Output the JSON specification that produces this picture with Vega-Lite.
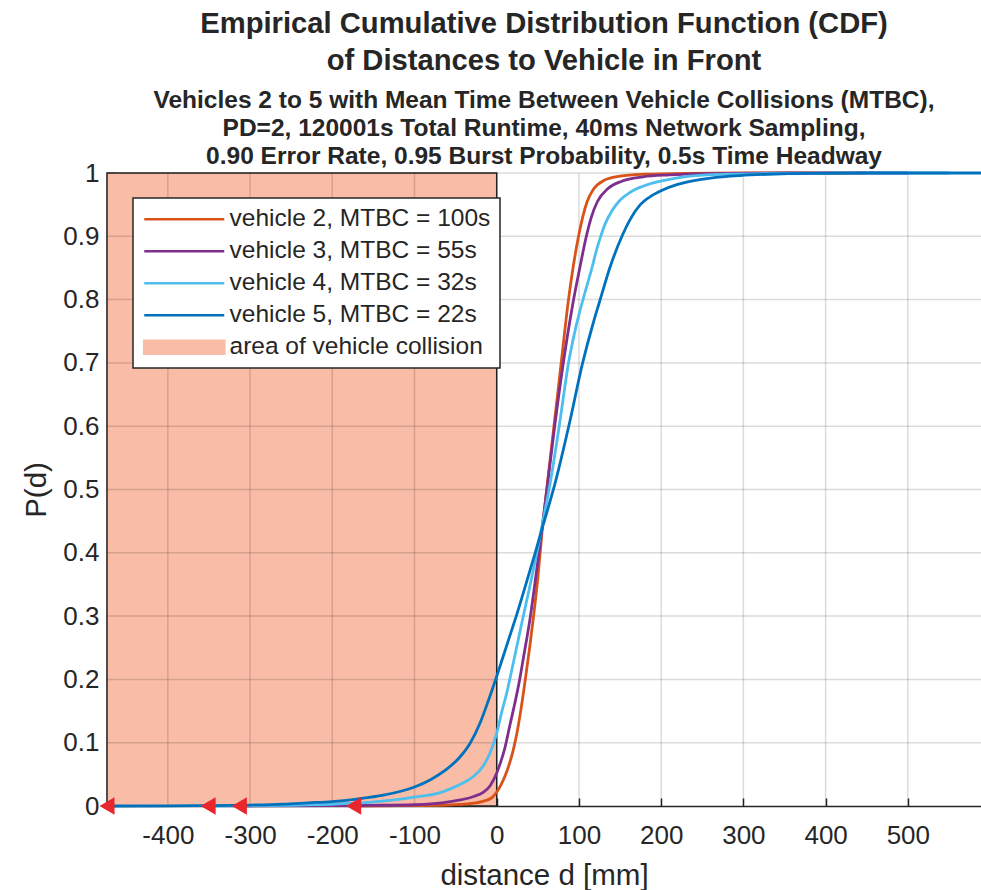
{
  "$schema": "https://vega.github.io/schema/vega-lite/v6.json",
  "autosize": "none",
  "width": 874,
  "height": 633,
  "padding": {"left": 107, "top": 173, "right": 0, "bottom": 84},
  "background": "white",
  "title": {
    "text": ["Empirical Cumulative Distribution Function (CDF)", "of Distances to Vehicle in Front"],
    "subtitle": ["Vehicles 2 to 5 with Mean Time Between Vehicle Collisions (MTBC),", "PD=2, 120001s Total Runtime, 40ms Network Sampling,", "0.90 Error Rate, 0.95 Burst Probability, 0.5s Time Headway"],
    "anchor": "middle",
    "frame": "group",
    "font": "Liberation Sans",
    "fontSize": 29.2,
    "fontWeight": "bold",
    "color": "#262626",
    "lineHeight": 37,
    "subtitleFont": "Liberation Sans",
    "subtitleFontSize": 24.5,
    "subtitleFontWeight": "bold",
    "subtitleColor": "#262626",
    "subtitleLineHeight": 28,
    "subtitlePadding": 12,
    "offset": -8
  },
  "config": {
    "view": {"stroke": null},
    "font": "Liberation Sans",
    "axis": {
      "labelFont": "Liberation Sans",
      "titleFont": "Liberation Sans",
      "labelColor": "#262626",
      "titleColor": "#262626",
      "labelFontSize": 26,
      "titleFontSize": 29.5,
      "titleFontWeight": "normal",
      "domainColor": "#262626",
      "domainWidth": 1.5,
      "tickColor": "#262626",
      "tickWidth": 1.5,
      "tickSize": -8,
      "grid": false,
      "zindex": 1
    },
    "legend": {
      "orient": "none",
      "legendX": 26,
      "legendY": 25,
      "labelFont": "Liberation Sans",
      "labelFontSize": 24.5,
      "labelColor": "#262626",
      "labelLimit": 0,
      "symbolSize": 400,
      "symbolStrokeWidth": 2.6,
      "labelOffset": 63,
      "rowPadding": 7,
      "columnPadding": 0,
      "padding": 9,
      "fillColor": "white",
      "strokeColor": "#262626",
      "zindex": 2
    }
  },
  "datasets": {
    "area": [{"x1": -474, "x2": 0, "label": "area of vehicle collision"}],
    "xgrid": [{"v": -400}, {"v": -300}, {"v": -200}, {"v": -100}, {"v": 0}, {"v": 100}, {"v": 200}, {"v": 300}, {"v": 400}, {"v": 500}],
    "ygrid": [{"v": 0.1}, {"v": 0.2}, {"v": 0.3}, {"v": 0.4}, {"v": 0.5}, {"v": 0.6}, {"v": 0.7}, {"v": 0.8}, {"v": 0.9}, {"v": 1}],
    "mins": [
      {"label": "vehicle 5, MTBC = 22s", "d": -474, "p": 0},
      {"label": "vehicle 4, MTBC = 32s", "d": -351, "p": 0},
      {"label": "vehicle 3, MTBC = 55s", "d": -313, "p": 0},
      {"label": "vehicle 2, MTBC = 100s", "d": -174, "p": 0}
    ],
    "cdf": [
      {"label": "vehicle 2, MTBC = 100s", "d": -174, "p": 0},
      {"label": "vehicle 2, MTBC = 100s", "d": -120, "p": 0.0005},
      {"label": "vehicle 2, MTBC = 100s", "d": -60, "p": 0.0015},
      {"label": "vehicle 2, MTBC = 100s", "d": -30, "p": 0.004},
      {"label": "vehicle 2, MTBC = 100s", "d": -15, "p": 0.008},
      {"label": "vehicle 2, MTBC = 100s", "d": -5, "p": 0.014},
      {"label": "vehicle 2, MTBC = 100s", "d": 0, "p": 0.022},
      {"label": "vehicle 2, MTBC = 100s", "d": 5, "p": 0.033},
      {"label": "vehicle 2, MTBC = 100s", "d": 10, "p": 0.047},
      {"label": "vehicle 2, MTBC = 100s", "d": 15, "p": 0.065},
      {"label": "vehicle 2, MTBC = 100s", "d": 20, "p": 0.088},
      {"label": "vehicle 2, MTBC = 100s", "d": 25, "p": 0.118},
      {"label": "vehicle 2, MTBC = 100s", "d": 30, "p": 0.157},
      {"label": "vehicle 2, MTBC = 100s", "d": 35, "p": 0.202},
      {"label": "vehicle 2, MTBC = 100s", "d": 40, "p": 0.25},
      {"label": "vehicle 2, MTBC = 100s", "d": 45, "p": 0.302},
      {"label": "vehicle 2, MTBC = 100s", "d": 50, "p": 0.36},
      {"label": "vehicle 2, MTBC = 100s", "d": 55, "p": 0.432},
      {"label": "vehicle 2, MTBC = 100s", "d": 60.8, "p": 0.5},
      {"label": "vehicle 2, MTBC = 100s", "d": 69.6, "p": 0.6},
      {"label": "vehicle 2, MTBC = 100s", "d": 78.4, "p": 0.7},
      {"label": "vehicle 2, MTBC = 100s", "d": 87.3, "p": 0.8},
      {"label": "vehicle 2, MTBC = 100s", "d": 93.4, "p": 0.855},
      {"label": "vehicle 2, MTBC = 100s", "d": 99.5, "p": 0.9},
      {"label": "vehicle 2, MTBC = 100s", "d": 104.5, "p": 0.93},
      {"label": "vehicle 2, MTBC = 100s", "d": 110, "p": 0.955},
      {"label": "vehicle 2, MTBC = 100s", "d": 118, "p": 0.975},
      {"label": "vehicle 2, MTBC = 100s", "d": 130, "p": 0.988},
      {"label": "vehicle 2, MTBC = 100s", "d": 150, "p": 0.995},
      {"label": "vehicle 2, MTBC = 100s", "d": 180, "p": 0.998},
      {"label": "vehicle 2, MTBC = 100s", "d": 230, "p": 0.9995},
      {"label": "vehicle 2, MTBC = 100s", "d": 300, "p": 1},
      {"label": "vehicle 2, MTBC = 100s", "d": 450, "p": 1},

      {"label": "vehicle 3, MTBC = 55s", "d": -313, "p": 0},
      {"label": "vehicle 3, MTBC = 55s", "d": -200, "p": 0.0005},
      {"label": "vehicle 3, MTBC = 55s", "d": -150, "p": 0.001},
      {"label": "vehicle 3, MTBC = 55s", "d": -100, "p": 0.002},
      {"label": "vehicle 3, MTBC = 55s", "d": -56.6, "p": 0.007},
      {"label": "vehicle 3, MTBC = 55s", "d": -28, "p": 0.015},
      {"label": "vehicle 3, MTBC = 55s", "d": -16, "p": 0.022},
      {"label": "vehicle 3, MTBC = 55s", "d": -8, "p": 0.032},
      {"label": "vehicle 3, MTBC = 55s", "d": 0, "p": 0.052},
      {"label": "vehicle 3, MTBC = 55s", "d": 5, "p": 0.07},
      {"label": "vehicle 3, MTBC = 55s", "d": 10, "p": 0.092},
      {"label": "vehicle 3, MTBC = 55s", "d": 16.4, "p": 0.13},
      {"label": "vehicle 3, MTBC = 55s", "d": 22.5, "p": 0.165},
      {"label": "vehicle 3, MTBC = 55s", "d": 27.5, "p": 0.197},
      {"label": "vehicle 3, MTBC = 55s", "d": 32.6, "p": 0.235},
      {"label": "vehicle 3, MTBC = 55s", "d": 41, "p": 0.3},
      {"label": "vehicle 3, MTBC = 55s", "d": 47, "p": 0.357},
      {"label": "vehicle 3, MTBC = 55s", "d": 51.3, "p": 0.4},
      {"label": "vehicle 3, MTBC = 55s", "d": 55.3, "p": 0.44},
      {"label": "vehicle 3, MTBC = 55s", "d": 61, "p": 0.5},
      {"label": "vehicle 3, MTBC = 55s", "d": 70.5, "p": 0.6},
      {"label": "vehicle 3, MTBC = 55s", "d": 81, "p": 0.7},
      {"label": "vehicle 3, MTBC = 55s", "d": 93.5, "p": 0.8},
      {"label": "vehicle 3, MTBC = 55s", "d": 101, "p": 0.85},
      {"label": "vehicle 3, MTBC = 55s", "d": 109, "p": 0.9},
      {"label": "vehicle 3, MTBC = 55s", "d": 115, "p": 0.93},
      {"label": "vehicle 3, MTBC = 55s", "d": 122.5, "p": 0.955},
      {"label": "vehicle 3, MTBC = 55s", "d": 135, "p": 0.975},
      {"label": "vehicle 3, MTBC = 55s", "d": 152, "p": 0.987},
      {"label": "vehicle 3, MTBC = 55s", "d": 178, "p": 0.994},
      {"label": "vehicle 3, MTBC = 55s", "d": 210, "p": 0.997},
      {"label": "vehicle 3, MTBC = 55s", "d": 260, "p": 0.999},
      {"label": "vehicle 3, MTBC = 55s", "d": 350, "p": 1},
      {"label": "vehicle 3, MTBC = 55s", "d": 500, "p": 1},

      {"label": "vehicle 4, MTBC = 32s", "d": -351, "p": 0},
      {"label": "vehicle 4, MTBC = 32s", "d": -250, "p": 0.001},
      {"label": "vehicle 4, MTBC = 32s", "d": -178, "p": 0.004},
      {"label": "vehicle 4, MTBC = 32s", "d": -130, "p": 0.009},
      {"label": "vehicle 4, MTBC = 32s", "d": -100, "p": 0.014},
      {"label": "vehicle 4, MTBC = 32s", "d": -68.7, "p": 0.021},
      {"label": "vehicle 4, MTBC = 32s", "d": -56.6, "p": 0.027},
      {"label": "vehicle 4, MTBC = 32s", "d": -40, "p": 0.037},
      {"label": "vehicle 4, MTBC = 32s", "d": -28, "p": 0.047},
      {"label": "vehicle 4, MTBC = 32s", "d": -16, "p": 0.064},
      {"label": "vehicle 4, MTBC = 32s", "d": -8, "p": 0.084},
      {"label": "vehicle 4, MTBC = 32s", "d": 0, "p": 0.115},
      {"label": "vehicle 4, MTBC = 32s", "d": 6, "p": 0.148},
      {"label": "vehicle 4, MTBC = 32s", "d": 12.4, "p": 0.18},
      {"label": "vehicle 4, MTBC = 32s", "d": 20, "p": 0.225},
      {"label": "vehicle 4, MTBC = 32s", "d": 29.8, "p": 0.285},
      {"label": "vehicle 4, MTBC = 32s", "d": 41.6, "p": 0.355},
      {"label": "vehicle 4, MTBC = 32s", "d": 48.5, "p": 0.398},
      {"label": "vehicle 4, MTBC = 32s", "d": 55, "p": 0.442},
      {"label": "vehicle 4, MTBC = 32s", "d": 65, "p": 0.51},
      {"label": "vehicle 4, MTBC = 32s", "d": 76, "p": 0.6},
      {"label": "vehicle 4, MTBC = 32s", "d": 87.3, "p": 0.7},
      {"label": "vehicle 4, MTBC = 32s", "d": 96, "p": 0.755},
      {"label": "vehicle 4, MTBC = 32s", "d": 105.6, "p": 0.803},
      {"label": "vehicle 4, MTBC = 32s", "d": 115.8, "p": 0.85},
      {"label": "vehicle 4, MTBC = 32s", "d": 121.5, "p": 0.879},
      {"label": "vehicle 4, MTBC = 32s", "d": 126, "p": 0.898},
      {"label": "vehicle 4, MTBC = 32s", "d": 132, "p": 0.92},
      {"label": "vehicle 4, MTBC = 32s", "d": 140, "p": 0.94},
      {"label": "vehicle 4, MTBC = 32s", "d": 148.5, "p": 0.955},
      {"label": "vehicle 4, MTBC = 32s", "d": 163, "p": 0.97},
      {"label": "vehicle 4, MTBC = 32s", "d": 186.7, "p": 0.983},
      {"label": "vehicle 4, MTBC = 32s", "d": 210, "p": 0.99},
      {"label": "vehicle 4, MTBC = 32s", "d": 235, "p": 0.995},
      {"label": "vehicle 4, MTBC = 32s", "d": 280, "p": 0.998},
      {"label": "vehicle 4, MTBC = 32s", "d": 350, "p": 0.9995},
      {"label": "vehicle 4, MTBC = 32s", "d": 420, "p": 1},
      {"label": "vehicle 4, MTBC = 32s", "d": 550, "p": 1},

      {"label": "vehicle 5, MTBC = 22s", "d": -474, "p": 0},
      {"label": "vehicle 5, MTBC = 22s", "d": -400, "p": 0.0003},
      {"label": "vehicle 5, MTBC = 22s", "d": -350, "p": 0.0007},
      {"label": "vehicle 5, MTBC = 22s", "d": -300, "p": 0.0015},
      {"label": "vehicle 5, MTBC = 22s", "d": -260, "p": 0.003},
      {"label": "vehicle 5, MTBC = 22s", "d": -230, "p": 0.005},
      {"label": "vehicle 5, MTBC = 22s", "d": -200, "p": 0.007},
      {"label": "vehicle 5, MTBC = 22s", "d": -170, "p": 0.011},
      {"label": "vehicle 5, MTBC = 22s", "d": -138, "p": 0.017},
      {"label": "vehicle 5, MTBC = 22s", "d": -100, "p": 0.03},
      {"label": "vehicle 5, MTBC = 22s", "d": -80, "p": 0.042},
      {"label": "vehicle 5, MTBC = 22s", "d": -62, "p": 0.057},
      {"label": "vehicle 5, MTBC = 22s", "d": -45, "p": 0.077},
      {"label": "vehicle 5, MTBC = 22s", "d": -32, "p": 0.1},
      {"label": "vehicle 5, MTBC = 22s", "d": -20, "p": 0.132},
      {"label": "vehicle 5, MTBC = 22s", "d": -10, "p": 0.167},
      {"label": "vehicle 5, MTBC = 22s", "d": 0, "p": 0.205},
      {"label": "vehicle 5, MTBC = 22s", "d": 12, "p": 0.253},
      {"label": "vehicle 5, MTBC = 22s", "d": 24.5, "p": 0.303},
      {"label": "vehicle 5, MTBC = 22s", "d": 35.9, "p": 0.352},
      {"label": "vehicle 5, MTBC = 22s", "d": 46.8, "p": 0.4},
      {"label": "vehicle 5, MTBC = 22s", "d": 56, "p": 0.442},
      {"label": "vehicle 5, MTBC = 22s", "d": 71, "p": 0.51},
      {"label": "vehicle 5, MTBC = 22s", "d": 88.5, "p": 0.605},
      {"label": "vehicle 5, MTBC = 22s", "d": 104.5, "p": 0.7},
      {"label": "vehicle 5, MTBC = 22s", "d": 117.8, "p": 0.765},
      {"label": "vehicle 5, MTBC = 22s", "d": 124.7, "p": 0.795},
      {"label": "vehicle 5, MTBC = 22s", "d": 138, "p": 0.852},
      {"label": "vehicle 5, MTBC = 22s", "d": 152.3, "p": 0.9},
      {"label": "vehicle 5, MTBC = 22s", "d": 162, "p": 0.926},
      {"label": "vehicle 5, MTBC = 22s", "d": 174.6, "p": 0.95},
      {"label": "vehicle 5, MTBC = 22s", "d": 186, "p": 0.962},
      {"label": "vehicle 5, MTBC = 22s", "d": 199.8, "p": 0.972},
      {"label": "vehicle 5, MTBC = 22s", "d": 220, "p": 0.982},
      {"label": "vehicle 5, MTBC = 22s", "d": 240, "p": 0.988},
      {"label": "vehicle 5, MTBC = 22s", "d": 260, "p": 0.992},
      {"label": "vehicle 5, MTBC = 22s", "d": 296, "p": 0.996},
      {"label": "vehicle 5, MTBC = 22s", "d": 330, "p": 0.998},
      {"label": "vehicle 5, MTBC = 22s", "d": 380, "p": 0.9995},
      {"label": "vehicle 5, MTBC = 22s", "d": 450, "p": 1},
      {"label": "vehicle 5, MTBC = 22s", "d": 589, "p": 1}
    ]
  },
  "encoding": {
    "x": {
      "type": "quantitative",
      "scale": {"domain": [-474, 589], "nice": false, "zero": false},
      "axis": {
        "title": "distance d [mm]",
        "values": [-400, -300, -200, -100, 0, 100, 200, 300, 400, 500],
        "labelExpr": "'' + datum.value",
        "labelPadding": 24,
        "titlePadding": 13
      }
    },
    "y": {
      "type": "quantitative",
      "scale": {"domain": [0, 1], "nice": false},
      "axis": {
        "title": "P(d)",
        "values": [0, 0.1, 0.2, 0.3, 0.4, 0.5, 0.6, 0.7, 0.8, 0.9, 1],
        "format": ".1~f",
        "labelPadding": 16,
        "titlePadding": 11
      }
    },
    "color": {
      "field": "label",
      "type": "nominal",
      "scale": {
        "domain": ["vehicle 2, MTBC = 100s", "vehicle 3, MTBC = 55s", "vehicle 4, MTBC = 32s", "vehicle 5, MTBC = 22s", "area of vehicle collision"],
        "range": ["#D95319", "#7E2F8E", "#4DBEEE", "#0072BD", "#f9bca6"]
      },
      "legend": {
        "title": null,
        "encode": {
          "symbols": {
            "update": {
              "shape": {"signal": "datum.value == 'area of vehicle collision' ? 'M-1,-0.65H7V0.65H-1Z' : 'M-1,0H7'"}
            }
          },
          "legend": {"update": {"strokeWidth": {"value": 1.5}}}
        }
      }
    }
  },
  "layer": [
    {
      "data": {"name": "area"},
      "mark": {"type": "rect", "stroke": "#262626", "strokeWidth": 1.5, "opacity": 1},
      "encoding": {
        "x": {"field": "x1", "type": "quantitative"},
        "x2": {"field": "x2"},
        "y": {"datum": 0, "type": "quantitative"},
        "y2": {"datum": 1}
      }
    },
    {
      "data": {"name": "xgrid"},
      "mark": {"type": "rule", "strokeWidth": 1.5, "opacity": 0.14},
      "encoding": {
        "x": {"field": "v", "type": "quantitative"},
        "color": {"value": "#000000"}
      }
    },
    {
      "data": {"name": "ygrid"},
      "mark": {"type": "rule", "strokeWidth": 1.5, "opacity": 0.14},
      "encoding": {
        "y": {"field": "v", "type": "quantitative"},
        "color": {"value": "#000000"}
      }
    },
    {
      "data": {"name": "cdf"},
      "mark": {"type": "line", "strokeWidth": 2.8, "interpolate": "monotone"},
      "encoding": {
        "x": {"field": "d", "type": "quantitative"},
        "y": {"field": "p", "type": "quantitative"}
      }
    },
    {
      "data": {"name": "mins"},
      "mark": {"type": "point", "shape": "triangle-left", "filled": true, "size": 300, "opacity": 1, "clip": false},
      "encoding": {
        "x": {"field": "d", "type": "quantitative"},
        "y": {"field": "p", "type": "quantitative"},
        "color": {"value": "#e8262b"}
      }
    }
  ]
}
